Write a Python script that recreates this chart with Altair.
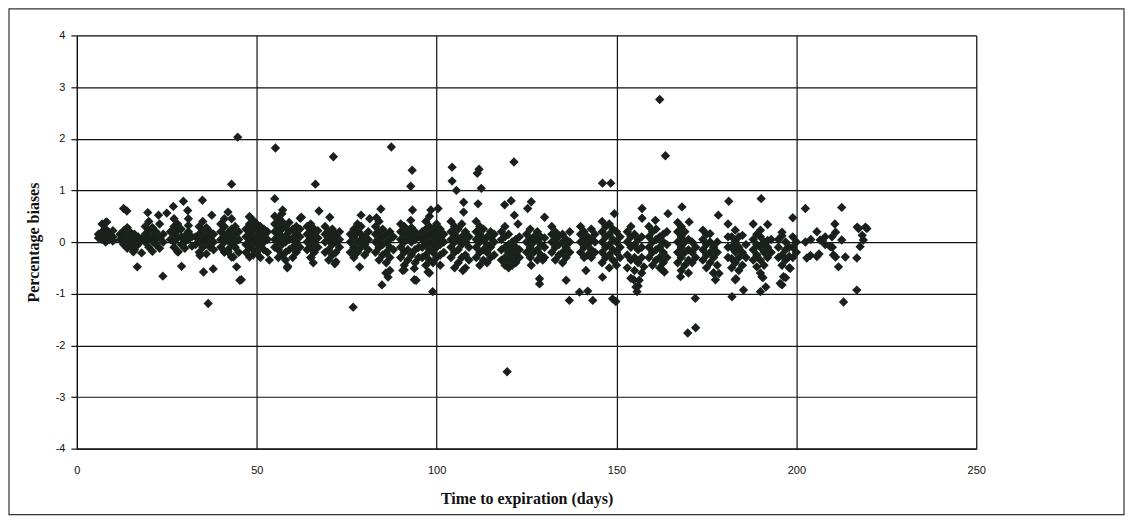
import altair as alt
import pandas as pd

# ---- data ----
cluster_days = [
    6, 7, 8, 9, 10,
    12, 13, 14, 15, 16, 17, 18,
    19, 20, 21, 22, 23, 24,
    26, 27, 28, 29, 30, 31, 32,
    33, 34, 35, 36, 37, 38,
    40, 41, 42, 43, 44, 45,
    47, 48, 49, 50, 51, 52, 53,
    55, 56, 57, 58, 59, 60, 61, 62,
    64, 65, 66, 67,
    69, 70, 71, 72, 73,
    76, 77, 78, 79, 80, 81,
    83, 84, 85, 86, 87, 88,
    90, 91, 92, 93, 94, 95,
    96, 97, 98, 99, 100, 101, 102,
    104, 105, 106, 107, 108, 109,
    111, 112, 113, 114, 115, 116,
    118, 119, 120, 121, 122, 123,
    125, 126, 127, 128, 129, 130,
    132, 133, 134, 135, 136, 137,
    140, 141, 142, 143, 144,
    146, 147, 148, 149, 150, 151,
    153, 154, 155, 156, 157,
    159, 160, 161, 162, 163, 164,
    167, 168, 169, 170, 171, 172,
    174, 175, 176, 177, 178,
    181, 182, 183, 184, 185, 186,
    188, 189, 190, 191, 192, 193,
    195, 196, 197, 198, 199, 200,
]

cluster_biases = [
    [0.08, 0.15], [0.05, 0.2, 0.35], [0.0, 0.12, 0.25, 0.38], [0.05, 0.18], [0.02, 0.1, 0.22],
    [0.05, 0.15], [-0.05, 0.1, 0.22], [-0.12, 0.0, 0.12, 0.28], [-0.08, 0.05, 0.18], [-0.15, 0.02, 0.15], [-0.05, 0.1], [-0.21, 0.05],
    [0.0, 0.15, 0.3], [-0.1, 0.08, 0.22, 0.4], [-0.18, 0.02, 0.12, 0.28], [-0.05, 0.05, 0.2], [-0.12, 0.1, 0.35], [0.0, 0.15],
    [0.05, 0.2], [-0.1, 0.0, 0.15, 0.3], [-0.19, 0.08, 0.22, 0.35], [-0.05, 0.1, 0.25], [-0.12, 0.0, 0.12], [0.05, 0.2, 0.32], [-0.08, 0.1],
    [-0.05, 0.1], [-0.2, 0.0, 0.15, 0.3], [-0.1, 0.05, 0.22, 0.4], [-0.23, 0.0, 0.12, 0.28], [-0.1, 0.08, 0.2], [-0.15, 0.0, 0.15],
    [-0.1, 0.05, 0.2, 0.35], [-0.2, 0.0, 0.12, 0.3, 0.45], [-0.15, 0.05, 0.18], [-0.29, -0.05, 0.1, 0.25], [-0.1, 0.0, 0.15, 0.3], [-0.2, 0.05, 0.2],
    [-0.2, -0.05, 0.1, 0.25], [-0.29, -0.1, 0.05, 0.2, 0.35, 0.49], [-0.25, -0.15, 0.0, 0.12, 0.28, 0.42], [-0.2, -0.05, 0.08, 0.22, 0.35],
    [-0.3, -0.1, 0.02, 0.15, 0.3], [-0.15, 0.0, 0.12, 0.25], [-0.2, 0.05, 0.2],
    [-0.1, 0.05, 0.2, 0.35, 0.5], [-0.3, -0.15, 0.0, 0.15, 0.3, 0.45], [-0.25, -0.05, 0.1, 0.25, 0.4, 0.55], [-0.35, -0.2, 0.0, 0.12, 0.3],
    [-0.15, 0.05, 0.2, 0.38], [-0.3, -0.1, 0.08, 0.25], [-0.2, 0.0, 0.15, 0.3], [-0.1, 0.1, 0.25],
    [-0.15, 0.0, 0.15, 0.3], [-0.3, -0.1, 0.05, 0.2, 0.35], [-0.2, 0.0, 0.12, 0.25], [-0.1, 0.08, 0.22],
    [-0.2, 0.0, 0.15, 0.3], [-0.35, -0.15, 0.05, 0.2], [-0.25, -0.05, 0.1, 0.25], [-0.38, -0.2, 0.0, 0.15], [-0.1, 0.05, 0.2],
    [-0.2, 0.0, 0.15], [-0.3, -0.1, 0.1, 0.25], [-0.2, 0.0, 0.2, 0.35], [-0.1, 0.05, 0.15, 0.3], [-0.25, -0.05, 0.1], [-0.15, 0.05, 0.2],
    [-0.2, 0.0, 0.15, 0.3], [-0.35, -0.1, 0.05, 0.2, 0.4], [-0.25, -0.05, 0.1, 0.25], [-0.4, -0.2, 0.0, 0.15], [-0.3, -0.1, 0.05, 0.2], [-0.15, 0.1],
    [-0.3, -0.1, 0.05, 0.2, 0.35], [-0.45, -0.2, 0.0, 0.15, 0.3], [-0.35, -0.15, 0.05, 0.2], [-0.25, 0.0, 0.12, 0.28], [-0.4, -0.15, 0.05, 0.2], [-0.3, -0.1, 0.1],
    [-0.3, -0.1, 0.05, 0.2], [-0.45, -0.25, -0.05, 0.1, 0.25, 0.4], [-0.35, -0.15, 0.0, 0.15, 0.3, 0.5], [-0.4, -0.2, -0.05, 0.1, 0.25],
    [-0.3, -0.1, 0.05, 0.2, 0.35], [-0.45, -0.25, -0.05, 0.1, 0.25], [-0.2, 0.0, 0.15],
    [-0.3, -0.1, 0.05, 0.2, 0.4], [-0.5, -0.2, 0.0, 0.15, 0.3], [-0.4, -0.15, 0.05, 0.25], [-0.3, -0.05, 0.1, 0.35], [-0.5, -0.25, 0.0, 0.2], [-0.35, -0.1, 0.1],
    [-0.3, -0.1, 0.05, 0.2, 0.4], [-0.45, -0.2, 0.0, 0.15, 0.3], [-0.35, -0.15, 0.05, 0.25], [-0.4, -0.2, -0.05, 0.1], [-0.3, -0.1, 0.08, 0.2], [-0.25, 0.0, 0.15],
    [-0.35, -0.15, 0.05, 0.2], [-0.45, -0.3, -0.1, 0.1, 0.3], [-0.5, -0.35, -0.2, -0.05, 0.15], [-0.45, -0.3, -0.15, 0.0], [-0.4, -0.25, -0.1, 0.05], [-0.3, -0.15, 0.1],
    [-0.2, 0.0, 0.15], [-0.3, -0.1, 0.05, 0.25], [-0.2, 0.0, 0.1], [-0.35, -0.15, 0.05, 0.2], [-0.25, -0.05, 0.1], [-0.3, -0.1, 0.08],
    [-0.2, 0.0, 0.15, 0.3], [-0.35, -0.1, 0.05, 0.2], [-0.25, -0.05, 0.12], [-0.4, -0.2, 0.0, 0.15], [-0.3, -0.1, 0.05], [-0.2, 0.0, 0.2],
    [-0.2, 0.0, 0.15, 0.3], [-0.3, -0.1, 0.05, 0.2], [-0.25, -0.05, 0.1], [-0.3, -0.15, 0.05, 0.25], [-0.2, 0.0, 0.15],
    [-0.4, -0.2, 0.0, 0.2, 0.4], [-0.3, -0.1, 0.1, 0.3], [-0.5, -0.25, -0.05, 0.15, 0.35], [-0.35, -0.15, 0.05, 0.25], [-0.45, -0.2, 0.0, 0.2], [-0.3, -0.1, 0.1],
    [-0.5, -0.25, 0.0, 0.2], [-0.7, -0.35, -0.1, 0.1, 0.3], [-0.55, -0.3, -0.05, 0.15], [-0.85, -0.4, -0.15, 0.05], [-0.6, -0.3, -0.1, 0.1],
    [-0.3, -0.1, 0.1, 0.3], [-0.45, -0.2, 0.0, 0.2], [-0.35, -0.15, 0.05, 0.25], [-0.5, -0.3, -0.1, 0.1], [-0.4, -0.2, 0.0, 0.15], [-0.3, -0.05, 0.2],
    [-0.4, -0.2, 0.0, 0.2, 0.38], [-0.55, -0.3, -0.1, 0.1, 0.3], [-0.45, -0.2, 0.0, 0.2], [-0.6, -0.35, -0.15, 0.05], [-0.4, -0.2, 0.0], [-0.3, -0.1],
    [-0.35, -0.15, 0.05, 0.23], [-0.5, -0.25, -0.05, 0.15], [-0.4, -0.2, 0.0, 0.16], [-0.6, -0.3, -0.1], [-0.45, -0.2, 0.0],
    [-0.3, -0.1, 0.1, 0.35], [-0.5, -0.32, -0.1, 0.1], [-0.4, -0.19, 0.0, 0.23], [-0.55, -0.3, -0.1, 0.1], [-0.45, -0.2, 0.13], [-0.3, -0.05],
    [-0.35, -0.15, 0.05, 0.35], [-0.48, -0.25, -0.05, 0.15], [-0.6, -0.35, -0.1, 0.1, 0.23], [-0.45, -0.2, 0.0], [-0.3, -0.1, 0.03, 0.34], [-0.2, 0.05],
    [-0.3, -0.1, 0.05], [-0.45, -0.25, 0.12, 0.19], [-0.35, -0.15, 0.0], [-0.5, -0.28, -0.1], [-0.3, -0.1, 0.1, 0.47], [-0.2, 0.0],
]

scatter_days = [
    8.3, 13.0, 13.9, 16.8, 15.7, 19.7, 22.7, 25.0, 23.9,
    26.8, 27.0, 29.6, 30.8, 31.0, 29.1, 28.2,
    34.9, 37.5, 35.2, 37.9, 36.5, 34.2,
    42.0, 43.0, 42.0, 43.5, 44.4, 45.3, 45.7, 43.0, 44.7,
    48.0, 53.5,
    55.0, 57.2, 62.4, 62.1, 58.5, 58.6, 55.2,
    67.3, 66.3, 65.7, 65.1, 70.3, 71.3, 71.7,
    79.0, 81.4, 78.6, 76.8, 84.5, 83.3, 84.8, 85.9, 87.0, 86.5, 87.4,
    93.3, 92.8, 90.6, 91.0, 93.8, 93.8, 94.3, 92.8, 93.2,
    98.4, 100.4, 97.6, 98.0, 98.9,
    104.3, 104.3, 105.5, 107.5, 107.5, 107.3,
    111.3, 112.4, 111.5, 111.8,
    118.9, 120.7, 121.6, 122.6, 121.5, 119.6,
    126.3, 125.3, 130.0, 126.3, 129.5, 128.6, 128.6,
    136.0, 136.9, 139.7, 141.5, 142.0, 143.4,
    149.4, 146.1, 148.9, 149.8, 146.1, 148.4,
    157.1, 157.1, 155.7, 154.8, 155.4, 156.3, 157.6,
    160.8, 164.3, 162.7, 163.3, 162.0, 163.6,
    168.2, 170.2, 167.8, 171.9, 169.8, 172.0,
    178.3, 177.5, 177.0, 178.5,
    181.2, 183.0, 182.1, 185.3, 183.2,
    190.2, 190.4, 190.0, 191.5, 190.7,
    196.4, 195.5, 196.0, 197.0, 198.3,
    202.5, 202.5, 203.9, 202.9, 205.7, 206.6, 205.7, 206.3, 207.2, 204.0, 208.0, 208.0,
    210.7, 209.9, 209.4, 210.3, 211.7, 210.9, 210.0, 210.9,
    212.6, 212.6, 213.6, 213.1,
    216.8, 216.8, 217.3, 219.6, 218.6, 217.7, 218.3, 216.9, 219.2,
]

scatter_biases = [
    0.39, 0.65, 0.60, -0.48, -0.19, 0.57, 0.52, 0.56, -0.66,
    0.69, 0.45, 0.79, 0.61, 0.45, -0.47, -0.19,
    0.81, 0.52, -0.58, -0.52, -1.19, -0.26,
    0.58, 0.45, -0.19, -0.29, -0.48, -0.74, -0.73, 1.12, 2.03,
    0.49, -0.35,
    0.84, 0.62, 0.48, 0.46, -0.50, -0.47, 1.82,
    0.60, 1.12, -0.40, -0.30, 0.48, 1.65, -0.42,
    0.52, 0.45, -0.48, -1.26, 0.64, 0.47, -0.83, -0.60, -0.55, -0.68, 1.84,
    0.62, 0.42, -0.55, -0.54, -0.51, -0.73, -0.74, 1.08, 1.39,
    0.62, 0.65, -0.58, -0.60, -0.96,
    1.45, 1.18, 1.00, 0.77, 0.58, -0.55,
    1.33, 1.04, 0.74, 1.41,
    0.72, 0.80, 0.52, 0.35, 1.55, -2.51,
    0.78, 0.65, 0.48, -0.45, -0.35, -0.71, -0.81,
    -0.74, -1.13, -0.97, -0.55, -0.95, -1.13,
    0.55, -0.68, -1.10, -1.15, 1.14, 1.14,
    0.65, 0.46, -0.96, -0.73, -0.87, -0.74, -0.48,
    0.42, 0.55, -0.54, -0.58, 2.76, 1.67,
    0.68, 0.39, -0.67, -1.09, -1.76, -1.66,
    0.52, -0.73, -0.60, -0.61,
    0.79, -0.73, -1.06, -0.93, -0.71,
    0.84, -0.67, -0.96, -0.87, -0.69,
    -0.67, -0.80, -0.83, -0.69, -0.51,
    0.65, 0.00, -0.26, -0.31, 0.20, 0.04, -0.28, -0.23, 0.03, 0.05, -0.05, 0.10,
    0.35, 0.10, -0.09, -0.25, -0.48, 0.19, -0.10, -0.29,
    0.67, 0.04, -0.29, -1.16,
    -0.93, -0.31, 0.26, 0.26, 0.04, -0.09, 0.13, 0.29, 0.29,
]

x_ticks = [0, 50, 100, 150, 200, 250]
y_ticks = [-4, -3, -2, -1, 0, 1, 2, 3, 4]

# ---- build table ----
rows = []
for d, ys in zip(cluster_days, cluster_biases):
    for v in ys:
        rows.append({"day": d, "bias": v})
for d, v in zip(scatter_days, scatter_biases):
    rows.append({"day": d, "bias": v})
df = pd.DataFrame(rows)

W, H = 901, 414
PAD_L, PAD_T, PAD_R, PAD_B = 69, 27, 150, 70

points = alt.Chart(df).mark_point(
    shape="diamond", filled=True, size=88, color="#1a211d", opacity=1
).encode(
    x=alt.X("day:Q",
            scale=alt.Scale(domain=[0, 250], nice=False, zero=True),
            axis=alt.Axis(values=x_ticks, title="Time to expiration (days)",
                          grid=True, gridColor="#111", gridWidth=1.2,
                          domainColor="#111", domainWidth=1.2,
                          ticks=False, labelPadding=16, labelFlush=False,
                          labelFont="Liberation Sans", labelFontSize=11,
                          labelColor="#111",
                          titleFont="Liberation Serif", titleFontSize=16,
                          titleFontWeight="bold", titleColor="#111",
                          titlePadding=15)),
    y=alt.Y("bias:Q",
            scale=alt.Scale(domain=[-4, 4], nice=False),
            axis=alt.Axis(values=y_ticks, title="Percentage biases",
                          labelExpr="'' + datum.value",
                          grid=True, gridColor="#111", gridWidth=1.2,
                          domainColor="#111", domainWidth=1.2,
                          ticks=True, tickSize=6, tickColor="#111", tickWidth=1.2,
                          labelPadding=6, labelFlush=False,
                          labelFont="Liberation Sans", labelFontSize=11,
                          labelColor="#111",
                          titleFont="Liberation Serif", titleFontSize=16,
                          titleFontWeight="bold", titleColor="#111",
                          titlePadding=14)),
)

frame = alt.Chart(pd.DataFrame({"frame": [1]})).mark_rect(
    fillOpacity=0, stroke="#333", strokeWidth=1.2
).encode(
    x=alt.value(-PAD_L + 1),
    x2=alt.value(W + PAD_R - 2),
    y=alt.value(-PAD_T + 0.5),
    y2=alt.value(H + PAD_B - 4),
)

chart = alt.layer(frame, points).properties(
    width=W, height=H,
    autosize=alt.AutoSizeParams(type="none"),
    padding={"left": PAD_L, "top": PAD_T, "right": PAD_R, "bottom": PAD_B},
).configure_view(
    stroke="#111", strokeWidth=1.2
).configure(background="white")

chart.save("out.html", embed_options={"renderer": "svg", "actions": False})
